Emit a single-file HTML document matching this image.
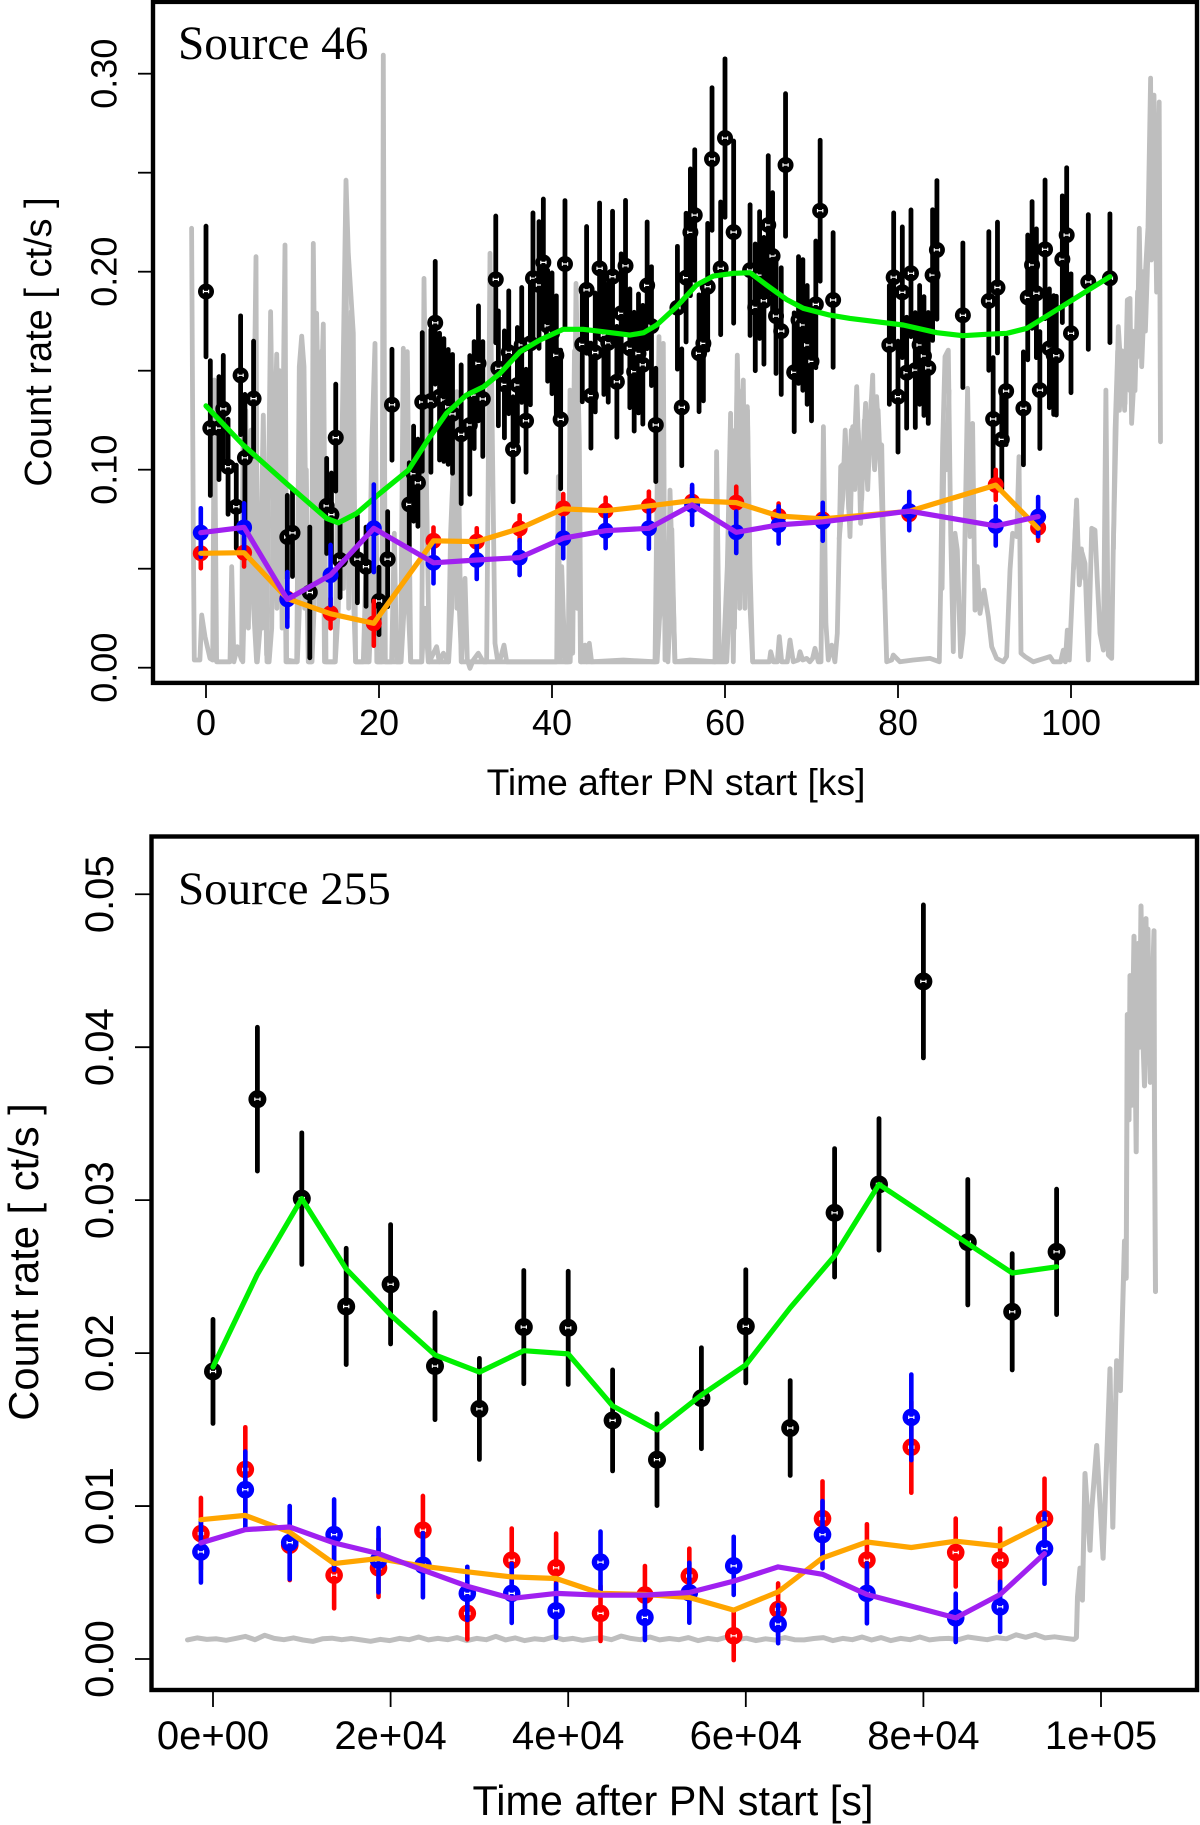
<!DOCTYPE html>
<html lang="en">
<head>
<meta charset="utf-8">
<title>Source light curves</title>
<style>
html,body{margin:0;padding:0;background:#fff;}
svg{display:block;}
text{font-family:"Liberation Sans",sans-serif;fill:#000;}
.serif{font-family:"Liberation Serif",serif;}
</style>
</head>
<body>
<svg id="fig" xmlns="http://www.w3.org/2000/svg" width="1200" height="1825" viewBox="0 0 1200 1825">
  <rect x="0" y="0" width="1200" height="1825" fill="#fff"/>

  <g id="top-panel">
    <g id="t-grey"></g>
    <g id="t-black"></g>
    <g id="t-green"></g>
    <g id="t-red"></g>
    <g id="t-blue"></g>
    <g id="t-lines"></g>
    <rect x="153" y="1.9" width="1044" height="681" fill="none" stroke="#000" stroke-width="4.4"/>
    <g id="t-axes"></g>
    <text class="serif" x="178" y="59" font-size="47.3">Source 46</text>
    <text transform="translate(51 342) rotate(-90)" text-anchor="middle" font-size="38">Count rate [ ct/s ]</text>
    <text x="676" y="795" text-anchor="middle" font-size="37.2">Time after PN start [ks]</text>
  </g>

  <g id="bottom-panel">
    <g id="b-grey"></g>
    <g id="b-black"></g>
    <g id="b-green"></g>
    <g id="b-red"></g>
    <g id="b-blue"></g>
    <g id="b-lines"></g>
    <rect x="151.5" y="836.5" width="1045.5" height="853.5" fill="none" stroke="#000" stroke-width="4.4"/>
    <g id="b-axes"></g>
    <text class="serif" x="178" y="904" font-size="47">Source 255</text>
    <text transform="translate(38 1262) rotate(-90)" text-anchor="middle" font-size="41.7">Count rate [ ct/s ]</text>
    <text x="673" y="1815" text-anchor="middle" font-size="41.4">Time after PN start [s]</text>
  </g>
</svg>

<script>
/* ---------- Source 46 data (time in ks, rate in ct/s) ---------- */
const xTicks46 = [0, 20, 40, 60, 80, 100];
const xTickLabels46 = ['0', '20', '40', '60', '80', '100'];
const yTicks46 = [0, 0.05, 0.10, 0.15, 0.20, 0.25, 0.30];
const yTickLabels46 = ['0.00', '', '0.10', '', '0.20', '', '0.30'];

const blackTimes46 = [0,.5,1.5,2,2.55,3.5,4,4.5,5.5,9.4,
  10,12,13.95,14.5,15,15.5,17.5,18.5,20,21,
  21.5,23.5,24,24.5,25,26,26.5,27,27.5,28,
  28.5,29.5,30.5,31,31.5,32,33.5,33.8,34.5,35,
  35.5,36,36.5,37,37.5,37.8,38.5,39,39.5,40,
  40.5,41,41.5,43.5,44,44.5,45,45.5,46,46.5,
  47,47.5,48,48.5,49,49.5,50,50.5,51,51.5,
  52,54.5,55,55.5,56,56.5,57,57.5,58,58.5,
  59.5,60,61,62.9,63.5,64,64.5,65,65.5,65.9,
  66.5,67,68,68.5,69,69.5,70,70.5,71,72.5,
  79,79.5,80,80.5,81,81.5,82,82.5,83,83.5,
  84,84.5,87.5,90.5,91,91.5,92,92.5,94.5,95,
  95.5,96,96.4,97,97.5,98,98.3,99,99.5,100,
  102,104.5];
const blackRates46 = [.190,.121,.121,.1307,.1015,.0813,.1477,.106,.1359,.066,
  .0681,.038,.0817,.0773,.1162,.0544,.0548,.051,.0337,.0548,
  .1328,.0825,.098,.0934,.1342,.1347,.1742,.1369,.1352,.1317,
  .1282,.1179,.1226,.1377,.1537,.1357,.1961,.1512,.1431,.1593,
  .1103,.1428,.163,.1247,.1638,.1967,.1933,.2047,.1727,.1689,
  .1578,.1254,.2039,.1633,.1908,.1374,.1592,.2017,.168,.1641,
  .1975,.1444,.179,.203,.1613,.1495,.1587,.153,.1931,.1725,
  .1226,.1818,.1315,.197,.2199,.2286,.1588,.1638,.1924,.2569,
  .2017,.2675,.22,.2008,.182,.1983,.1853,.2236,.2079,.1776,
  .17,.2539,.1492,.1756,.1731,.163,.1547,.1835,.2308,.1857,
  .163,.1972,.1369,.1896,.149,.1992,.1503,.163,.1574,.1514,
  .1983,.211,.178,.1852,.1256,.192,.1153,.1397,.131,.187,
  .2034,.1891,.1402,.2113,.1613,.1579,.1576,.2063,.2185,.1689,
  .1948,.1967];
const blackErrs46 = [.033,.034,.026,.027,.024,.021,.030,.032,.029,.021,
  .022,.033,.024,.021,.027,.019,.022,.020,.017,.024,
  .028,.021,.024,.022,.035,.036,.031,.032,.031,.029,
  .030,.035,.035,.027,.029,.029,.032,.029,.027,.031,
  .0265,.029,.029,.026,.031,.033,.032,.032,.028,.0305,
  .03,.035,.032,.029,.032,.0265,.03,.033,.03,.03,
  .033,.028,.03,.033,.03,.03,.03,.03,.032,.03,
  .0286,.031,.0295,.0325,.032,.033,.0295,.029,.032,.036,
  .0335,.04,.046,.033,.032,.032,.032,.035,.032,.029,
  .032,.036,.03,.032,.033,.03,.03,.032,.0356,.034,
  .03,.0325,.028,.033,.028,.032,.029,.03,.03,.028,
  .033,.035,.0365,.035,.031,.033,.025,.027,.0285,.0315,
  .032,.0325,.0295,.035,.03,.03,.03,.032,.034,.03,
  .034,.0325];

const greenTimes46 = [0,4.3,9.3,13.95,15.3,17.4,20.1,23.4,25.5,27.8,30.1,32.1,34,36.3,38.6,41.3,43.6,45.9,49,50.6,52.1,54.4,56.7,58.65,61,62.9,64.8,67.1,69.05,72.1,74.45,80.6,84.5,87.5,90.2,92.6,94.9,98,101.4,104.5];
const greenRates46 = [.1322,.1125,.0931,.0754,.0732,.0779,.0881,.0998,.1141,.1285,.1377,.1419,.1487,.1596,.1655,.1709,.1709,.1697,.168,.1692,.1731,.1823,.1933,.1978,.1992,.1995,.1933,.186,.1815,.1781,.1764,.1731,.1692,.1677,.1684,.1689,.1714,.1798,.1891,.1975];

const bandTimes46 = [-.6,4.4,9.4,14.4,19.4,26.3,31.3,36.26,41.3,46.2,51.2,56.2,61.3,66.2,71.3,81.3,91.3,96.2];
const redRates46 = [.0578,.0581,.0349,.0275,.0224,.0641,.0637,.0703,.0805,.0793,.0817,.0839,.0834,.0766,.0749,.0775,.0923,.0707];
const redErrs46 = [.0076,.007,.01,.0076,.0113,.0067,.0067,.0067,.0072,.0066,.0072,.007,.008,.0063,.007,.007,.0076,.0066];
const blueRates46 = [.0682,.0709,.0345,.0468,.0704,.053,.0544,.0556,.0654,.0692,.0704,.0822,.0684,.0721,.0737,.0791,.0716,.0763];
const blueErrs46 = [.0123,.0121,.0138,.0152,.0221,.0104,.0096,.0088,.0101,.0088,.0103,.0101,.0105,.0094,.0096,.0097,.0099,.0099];
const orangeRates46 = [.0578,.0581,.0349,.0272,.0224,.0641,.0637,.0703,.0802,.0793,.0817,.0844,.0834,.0766,.0752,.079,.0922,.0704];
const purpleRates46 = [.0682,.0709,.0345,.0468,.0704,.053,.0544,.0556,.0654,.0692,.0704,.0822,.0684,.0721,.0737,.0791,.0716,.0763];

const greyTimes46 = [-1.66,-1.47,-1.35,-.7,-.5,-.12,.46,.77,.96,1.23,2.77,2.97,3.23,3.62,4.12,4.31,4.78,5.28,5.78,5.93,
  6.24,6.36,6.63,7.01,7.47,7.78,8.17,8.48,8.75,9.13,9.32,10.48,10.79,11.06,11.33,11.56,11.83,12.21,12.41,12.64,
  12.79,13.1,13.56,13.87,14.91,15.3,15.68,16.18,16.45,16.72,17.03,17.3,18.19,18.5,18.76,19.15,19.54,19.8,20.35,20.5,
  20.73,21.46,21.77,22.04,22.5,22.81,23.12,23.27,23.5,23.66,24.93,25.2,25.51,25.82,26.66,26.97,27.44,28.01,28.28,28.59,
  28.98,29.25,29.55,29.94,30.21,30.52,30.9,31.48,32.06,32.44,32.64,32.83,33.14,33.41,33.68,33.99,34.45,34.76,36.68,40.54,
  40.73,40.92,41.12,41.5,41.89,42.08,42.39,42.77,42.96,43.16,43.35,43.81,44,44.31,44.58,48.24,51.91,52.18,52.37,52.56,
  52.87,53.06,53.33,53.64,53.91,54.22,55.95,58.84,59.03,59.34,59.8,60.27,60.65,60.96,61.42,61.73,62.12,62.31,62.58,62.89,
  63.2,65.12,65.28,65.59,66.05,66.28,66.55,67.2,67.51,67.9,68.47,68.67,68.98,69.44,69.82,70.13,70.4,70.79,71.1,71.37,
  71.67,71.94,72.33,72.71,72.98,73.22,73.37,73.75,74.06,74.45,74.76,74.95,75.22,75.53,75.68,75.99,76.26,76.57,77.07,77.26,
  77.53,77.84,78.11,78.3,78.49,78.69,79.27,79.46,80.23,81.77,83.7,84.78,84.93,85.16,85.43,85.82,86.09,86.39,86.59,86.86,
  87.24,87.55,87.82,88.05,88.32,88.63,88.9,89.17,89.48,89.94,90.44,90.83,91.4,92.17,92.56,92.95,93.25,93.72,93.99,94.22,
  94.68,95.64,97.57,97.96,98.8,99.11,99.34,99.57,99.8,100.19,100.65,100.96,101.31,101.62,102,102.39,102.77,103.04,103.35,103.74,
  104.04,104.31,104.7,104.89,105.2,105.47,105.85,106.24,106.51,106.82,107.01,107.4,107.67,107.9,108.17,108.55,108.9,109.2,109.3,109.6,
  109.9,110.2,110.35];
const greyRates46 = [.2219,.0679,.0039,.0039,.0266,.0157,.0047,.0039,.1453,.003,.003,.051,.003,.0106,.0039,.1352,.0679,.0342,.2076,.003,
  .0199,.0679,.1276,.0064,.1798,.0847,.1584,.0847,.0679,.2135,.0039,.003,.152,.1675,.152,.0679,.003,.003,.2143,.1184,
  .179,.1015,.1736,.003,.003,.1184,.1015,.2462,.2093,.1907,.1689,.003,.003,.051,.003,.1083,.1638,.003,.003,.3094,
  .003,.003,.0679,.003,.003,.1613,.1184,.1596,.0679,.003,.003,.1966,.0847,.003,.0106,.003,.0073,.003,.0679,.1015,
  .1394,.0342,.003,.0451,.0039,-.0003,.0039,.0073,.003,.003,.1015,.2093,.1015,.0123,.0047,.0039,.0114,.003,.003,.003,
  .0965,.0039,.051,.003,.003,.1402,.0073,.1941,.152,.1158,.003,.0114,.003,.0123,.003,.0039,.003,.1015,.1672,.0409,
  .1638,.0039,.0039,.0897,.051,.003,.0039,.003,.1091,.0039,.0039,.051,.1285,.003,.1579,.0847,.1453,.0679,.1318,.051,
  .003,.003,.0081,.003,.003,.0157,.003,.003,.014,.003,.0039,.0081,.0039,.0047,.003,.0047,.0098,.003,.003,.1217,
  .0224,.0039,.0114,.003,.0173,.0679,.1015,.1032,.1066,.0662,.1217,.11,.1419,.1015,.0729,.11,.1335,.1066,.1478,.1015,
  .1369,.1133,.1125,.0679,.0342,.003,.0039,.0064,.003,.0039,.0047,.003,.0392,.1116,.1571,.1604,.0679,.0081,.0679,.0594,
  .0056,.0173,.0847,.1411,.0662,.1234,.0291,.051,.0274,.0392,.0258,.0106,.0047,.003,.0056,.0493,.0679,.0662,.1066,.0073,
  .0056,.003,.0056,.003,.003,.0089,.003,.019,.0039,.0409,.0847,.0418,.0577,.0527,.0039,.0704,.0695,.0443,.0173,.0089,
  .1402,.0064,.0047,.0611,.1184,.1722,.1453,.1335,.1857,.1865,.1234,.1554,.1571,.2219,.152,.1958,.2225,.2978,.2059,.2892,
  .1897,.2857,.1141];

/* burst interiors of the background curve: second trace through the dense flare blocks */
const greyBurstTimes46 = [4.25,4.4,4.6,4.9,5.2,5.5,5.85,6.1,6.5,6.8,7.05,7.3,7.6,7.9,8.2,8.5,8.8,9.0,9.25,
  10.55,10.8,11.1,11.4,11.6,11.85,12.25,12.5,12.8,13.1,13.4,13.7,14.95,15.3,15.6,15.9,16.2,16.5,16.8,17.1,17.3,
  18.85,19.1,19.3,19.5,19.75,22.55,22.9,23.2,23.4,23.65,24.95,25.3,25.7,28.05,28.4,28.7,29,29.2,29.5,
  42.1,42.25,42.6,42.9,43.1,43.3,52.15,52.5,52.7,52.95,53.4,53.7,53.85,54.2,
  60.2,60.5,60.8,61.1,61.4,61.7,62,62.3,62.6,62.9,63.2];
const greyBurstRates46 = [.003,.03,.13,.02,.12,.03,.003,.02,.02,.06,.003,.003,.02,.14,.03,.15,.02,.12,.003,
  .003,.03,.15,.03,.1,.003,.003,.03,.16,.03,.16,.003,.003,.03,.1,.04,.2,.03,.18,.03,.003,
  .003,.03,.03,.15,.003,.003,.03,.15,.03,.003,.003,.03,.003,.003,.03,.12,.03,.1,.003,
  .003,.03,.16,.03,.1,.003,.003,.03,.15,.03,.003,.03,.07,.003,
  .003,.03,.12,.02,.15,.03,.14,.03,.13,.03,.003];
/* separate plateau stretches of the background curve */
const greyPlateauATimes46 = [73.2,73.6,73.9,74.3,74.6,75,75.4,75.8,76.1,76.5,76.9,77.3,77.7,78.1,78.4];
const greyPlateauARates46 = [.065,.085,.12,.08,.12,.09,.12,.085,.125,.09,.135,.1,.13,.085,.04];
const greyPlateauBTimes46 = [85.1,85.35,85.6,85.9];
const greyPlateauBRates46 = [.04,.12,.1,.14];
const greyPlateauCTimes46 = [100.3,100.6,100.9,101.2,101.6];
const greyPlateauCRates46 = [.05,.08,.05,.06,.045];
const greyPlateauDTimes46 = [104.9,105.1,105.4,105.6,105.9,106.2,106.5,106.8,107.1,107.4,107.7,108,108.3,108.6,108.9,109.1,109.35,109.55,109.75,110,110.15];
const greyPlateauDRates46 = [.06,.12,.16,.13,.16,.13,.17,.14,.17,.14,.19,.17,.2,.17,.21,.26,.25,.27,.24,.26,.23];

/* ---------- Source 255 data (time in s, rate in ct/s) ---------- */
const xTicks255 = [0, 20000, 40000, 60000, 80000, 100000];
const xTickLabels255 = ['0e+00', '2e+04', '4e+04', '6e+04', '8e+04', '1e+05'];
const yTicks255 = [0, 0.01, 0.02, 0.03, 0.04, 0.05];
const yTickLabels255 = ['0.00', '0.01', '0.02', '0.03', '0.04', '0.05'];

const blackTimes255 = [0,5000,10000,15000,20000,25000,30000,35000,40000,45000,50000,55000,60000,65000,70000,75000,80000,85000,90000,95000];
const blackRates255 = [.0188,.0366,.0301,.02305,.0245,.01915,.01635,.0217,.02165,.0156,.01303,.01705,.02175,.0151,.02917,.03103,.0443,.02725,.0227,.02662];
const blackErrs255 = [.0034,.0047,.0043,.0038,.0039,.0035,.0033,.0037,.0037,.0033,.003,.0033,.0037,.0031,.0042,.0043,.005,.0041,.0038,.0041];
const greenRates255 = [.0191,.02515,.0301,.0255,.0225,.01988,.01876,.02016,.01995,.01655,.01498,.01726,.01923,.02296,.02636,.03103,.0291,.02716,.02524,.02564];

const bandTimes255 = [-1360,3640,8640,13640,18640,23640,28640,33640,38640,43640,48640,53640,58640,63640,68640,73640,78640,83640,88640,93640];
const redRates255 = [.0082,.01239,.00744,.00548,.00596,.00842,.00298,.00646,.00596,.00298,.00418,.00543,.00152,.00324,.00918,.00646,.01385,.00696,.00646,.00918];
const redErrs255 = [.00233,.00276,.00228,.00217,.0019,.00224,.0017,.00207,.00224,.0018,.0019,.00178,.00159,.0017,.00243,.00235,.00298,.00222,.00207,.00261];
const blueRates255 = [.007,.01107,.00761,.00813,.00646,.00613,.00429,.00429,.00315,.00633,.00272,.00433,.00609,.00228,.00813,.00429,.0158,.00269,.00341,.00722];
const blueErrs255 = [.002,.0025,.00239,.0023,.0021,.0021,.00174,.00193,.00176,.002,.00148,.00196,.0019,.00125,.0022,.00196,.0028,.00158,.00164,.0023];
const orangeRates255 = [.00911,.00939,.0083,.00624,.00657,.00607,.0057,.00537,.00526,.00429,.00422,.00402,.0032,.00439,.00661,.00765,.00729,.0077,.00739,.00885];
const purpleRates255 = [.00759,.00846,.00863,.00759,.00689,.00581,.00476,.00396,.00429,.00417,.00418,.00435,.00509,.00602,.00554,.00422,.00346,.00269,.00422,.00689];

const greyBaseStart255 = -2870;
const greyBaseStep255 = 1085;
const greyBaseRates255 = [.00125,.00138,.00128,.00132,.00122,.00135,.00148,.00126,.00155,.00135,.00126,.00138,.00124,.00115,.00132,.00136,.00126,.00134,.00125,.00116,
  .00128,.0012,.00135,.00126,.00144,.00125,.00135,.00126,.0014,.0012,.00135,.00126,.00148,.00125,.00138,.0012,.00132,.00126,.00144,.00126,
  .00135,.00122,.00132,.0014,.00126,.0015,.00135,.00126,.00144,.00125,.00134,.00126,.0014,.0012,.00135,.00126,.00144,.00126,.00136,.0012,
  .00132,.00124,.0014,.00126,.00125,.00134,.0014,.0012,.00135,.00126,.00144,.00124,.0014,.0012,.00135,.00126,.00144,.00125,.00132,.00135,
  .00126,.00144,.00135,.00126,.0014,.00132,.00158,.00142,.0016,.00138,.00145,.00136,.00128];
const greyRiseTimes255 = [97230,97350,97630,97900,98200,98760,98950,99520,100240,101010,101330,101760,102180,102650,102840,102960,103150,103270,103460,103600,103720,103860,103960,104070,104170,104340,104500,104700,104900,105000,105070,105180,105290,105420,105550,105750,105970,106030,106140];
const greyRiseRates255 = [.0014,.00406,.00594,.00385,.01213,.00711,.00972,.01396,.00659,.01898,.00861,.0195,.01755,.02733,.02489,.04214,.03525,.04468,.0362,.043,.04725,.0385,.03316,.042,.04678,.040,.04923,.041,.03747,.045,.04841,.04,.04772,.04,.0377,.043,.04762,.035,.02402];

/* ---------- axis functions ---------- */
function xTop(t) { return 206 + t * 8.65; }
function yTop(v) { return 667.7 - v * 1980; }
function xBot(s) { return 213 + s * 0.00888; }
function yBot(v) { return 1659 - v * 15295; }

const NS = 'http://www.w3.org/2000/svg';
function make(tag, parent, props) {
  const el = document.createElementNS(NS, tag);
  for (const k in props) el.setAttribute(k, props[k]);
  document.getElementById(parent).appendChild(el);
  return el;
}

function drawLine(parent, name, times, rates, xf, yf, colour, width) {
  const pts = times.map(function (t, i) { return xf(t).toFixed(1) + ',' + yf(rates[i]).toFixed(1); }).join(' ');
  const el = make('polyline', parent, { points: pts, fill: 'none', stroke: colour, 'stroke-width': width, 'stroke-linejoin': 'round', 'stroke-linecap': 'round' });
  
  
}

function drawPoints(parent, name, times, rates, errs, xf, yf, colour, radius, barW, hole) {
  times.forEach(function (t, i) {
    const x = xf(t), y = yf(rates[i]);
    const bar = make('line', parent, { x1: x, x2: x, y1: yf(rates[i] + errs[i]), y2: yf(rates[i] - errs[i]), stroke: colour, 'stroke-width': barW, 'stroke-linecap': 'round' });
    
    
    const dot = make('circle', parent, { cx: x, cy: y, r: radius, fill: colour });
    
    
    if (hole) {
      const d = 'M' + (x - 2.6).toFixed(1) + ' ' + (y - 1.7).toFixed(1) + 'v3.4M' + (x - 2.6).toFixed(1) + ' ' + y.toFixed(1) + 'h5.2M' + (x + 2.6).toFixed(1) + ' ' + (y - 1.7).toFixed(1) + 'v3.4';
      const h = make('path', parent, { d: d, fill: 'none', stroke: '#fff', 'stroke-width': 1.2 });
      
      
    }
  });
}

function drawAxes(parent, xTicks, xLabels, yTicks, yLabels, xf, yf, o) {
  xTicks.forEach(function (t, i) {
    const tick = make('line', parent, { x1: xf(t), x2: xf(t), y1: o.frameBottom, y2: o.xTickEnd, stroke: '#000', 'stroke-width': 1.8 });
    
    
    const lab = make('text', parent, { x: xf(t), y: o.xLabelY, 'text-anchor': 'middle', 'font-size': o.fontSize });
    lab.textContent = xLabels[i];
    
    
  });
  yTicks.forEach(function (v, i) {
    const tick = make('line', parent, { x1: o.frameLeft, x2: o.yTickEnd, y1: yf(v), y2: yf(v), stroke: '#000', 'stroke-width': 1.8 });
    
    
    if (yLabels[i]) {
      const lab = make('text', parent, { transform: 'translate(' + o.yLabelX + ' ' + yf(v) + ') rotate(-90)', 'text-anchor': 'middle', 'font-size': o.fontSize });
      lab.textContent = yLabels[i];
      
      
    }
  });
}

/* ---------- Source 46 ---------- */
drawLine('t-grey', 'source-46-background-line', greyTimes46, greyRates46, xTop, yTop, '#bebebe', 4.8);
drawLine('t-grey', 'source-46-background-bursts', greyBurstTimes46, greyBurstRates46, xTop, yTop, '#bebebe', 4.8);
drawLine('t-grey', 'source-46-background-plateau-a', greyPlateauATimes46, greyPlateauARates46, xTop, yTop, '#bebebe', 4.8);
drawLine('t-grey', 'source-46-background-plateau-b', greyPlateauBTimes46, greyPlateauBRates46, xTop, yTop, '#bebebe', 4.8);
drawLine('t-grey', 'source-46-background-plateau-c', greyPlateauCTimes46, greyPlateauCRates46, xTop, yTop, '#bebebe', 4.8);
drawLine('t-grey', 'source-46-background-plateau-d', greyPlateauDTimes46, greyPlateauDRates46, xTop, yTop, '#bebebe', 4.8);
drawPoints('t-black', 'source-46-total', blackTimes46, blackRates46, blackErrs46, xTop, yTop, '#000', 8, 4.8, true);
drawLine('t-green', 'source-46-total-smooth-line', greenTimes46, greenRates46, xTop, yTop, '#00f000', 5.2);
drawPoints('t-red', 'source-46-red', bandTimes46, redRates46, redErrs46, xTop, yTop, '#ff0000', 8, 4.6, false);
drawPoints('t-blue', 'source-46-blue', bandTimes46, blueRates46, blueErrs46, xTop, yTop, '#0000ff', 8, 4.6, false);
drawLine('t-lines', 'source-46-orange-line', bandTimes46, orangeRates46, xTop, yTop, '#ffa500', 5.2);
drawLine('t-lines', 'source-46-purple-line', bandTimes46, purpleRates46, xTop, yTop, '#a020f0', 5.2);
drawAxes('t-axes', xTicks46, xTickLabels46, yTicks46, yTickLabels46, xTop, yTop, { frameBottom: 683, xTickEnd: 698, xLabelY: 735, frameLeft: 153, yTickEnd: 138, yLabelX: 116.5, fontSize: 36 });

/* ---------- Source 255 ---------- */
const greyTimes255 = greyBaseRates255.map(function (v, i) { return greyBaseStart255 + i * greyBaseStep255; }).concat(greyRiseTimes255);
const greyRates255 = greyBaseRates255.concat(greyRiseRates255);
drawLine('b-grey', 'source-255-background-line', greyTimes255, greyRates255, xBot, yBot, '#bebebe', 5);
drawPoints('b-black', 'source-255-total', blackTimes255, blackRates255, blackErrs255, xBot, yBot, '#000', 9, 4.8, true);
drawLine('b-green', 'source-255-total-smooth-line', blackTimes255, greenRates255, xBot, yBot, '#00f000', 5.2);
drawPoints('b-red', 'source-255-red', bandTimes255, redRates255, redErrs255, xBot, yBot, '#ff0000', 8.8, 4.6, true);
drawPoints('b-blue', 'source-255-blue', bandTimes255, blueRates255, blueErrs255, xBot, yBot, '#0000ff', 8.8, 4.6, true);
drawLine('b-lines', 'source-255-orange-line', bandTimes255, orangeRates255, xBot, yBot, '#ffa500', 5.2);
drawLine('b-lines', 'source-255-purple-line', bandTimes255, purpleRates255, xBot, yBot, '#a020f0', 5.2);
drawAxes('b-axes', xTicks255, xTickLabels255, yTicks255, yTickLabels255, xBot, yBot, { frameBottom: 1690, xTickEnd: 1707, xLabelY: 1749, frameLeft: 151.5, yTickEnd: 135, yLabelX: 113, fontSize: 40 });
</script>
</body>
</html>
